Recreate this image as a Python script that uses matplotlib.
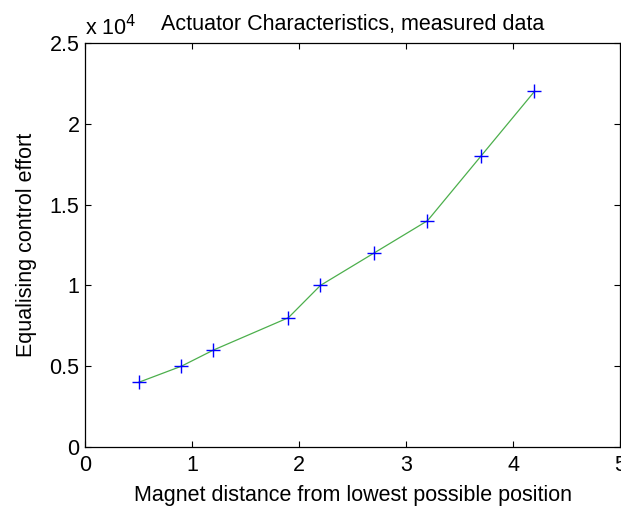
import numpy as np
import matplotlib
matplotlib.use('Agg')
import matplotlib.pyplot as plt
from matplotlib.ticker import FuncFormatter

plt.rcParams['font.family'] = ['Liberation Sans', 'DejaVu Sans']

# measured data
distance = [0.5, 0.9, 1.2, 1.9, 2.2, 2.7, 3.2, 3.7, 4.2]
effort = [4000, 5000, 6000, 8000, 10000, 12000, 14000, 18000, 22000]
xticks = [0, 1, 2, 3, 4, 5]
yticks = [0, 5000, 10000, 15000, 20000, 25000]

fs = 15.5

fig = plt.figure(figsize=(6.21, 5.07), dpi=100)
ax = fig.add_axes([0.137, 0.1183, 0.8615, 0.797])

ax.plot(distance, effort, color='#4caf4c', linewidth=0.9, zorder=2)
ax.plot(distance, effort, linestyle='none', marker='+', color='#0000ff',
        markersize=9.5, markeredgewidth=1.0, zorder=3)

ax.set_xlim(0, 5)
ax.set_ylim(0, 25000)
ax.set_xticks(xticks)
ax.set_yticks(yticks)
ax.yaxis.set_major_formatter(FuncFormatter(lambda v, p: '%g' % (v / 1e4)))
ax.tick_params(direction='in', length=4, width=0.8, top=True, right=True,
               labelsize=fs, pad=4)
ax.tick_params(axis='x', pad=6)
for s in ax.spines.values():
    s.set_linewidth(0.9)

ax.set_xlabel('Magnet distance from lowest possible position', fontsize=fs, labelpad=6)
ax.set_ylabel('Equalising control effort', fontsize=fs, labelpad=9)
ax.set_title('Actuator Characteristics, measured data', fontsize=fs, pad=9)
ax.text(0.0, 1.008, r'x 10$^{4}$', transform=ax.transAxes, fontsize=fs,
        ha='left', va='bottom')

fig.savefig('out.png', dpi=100)
